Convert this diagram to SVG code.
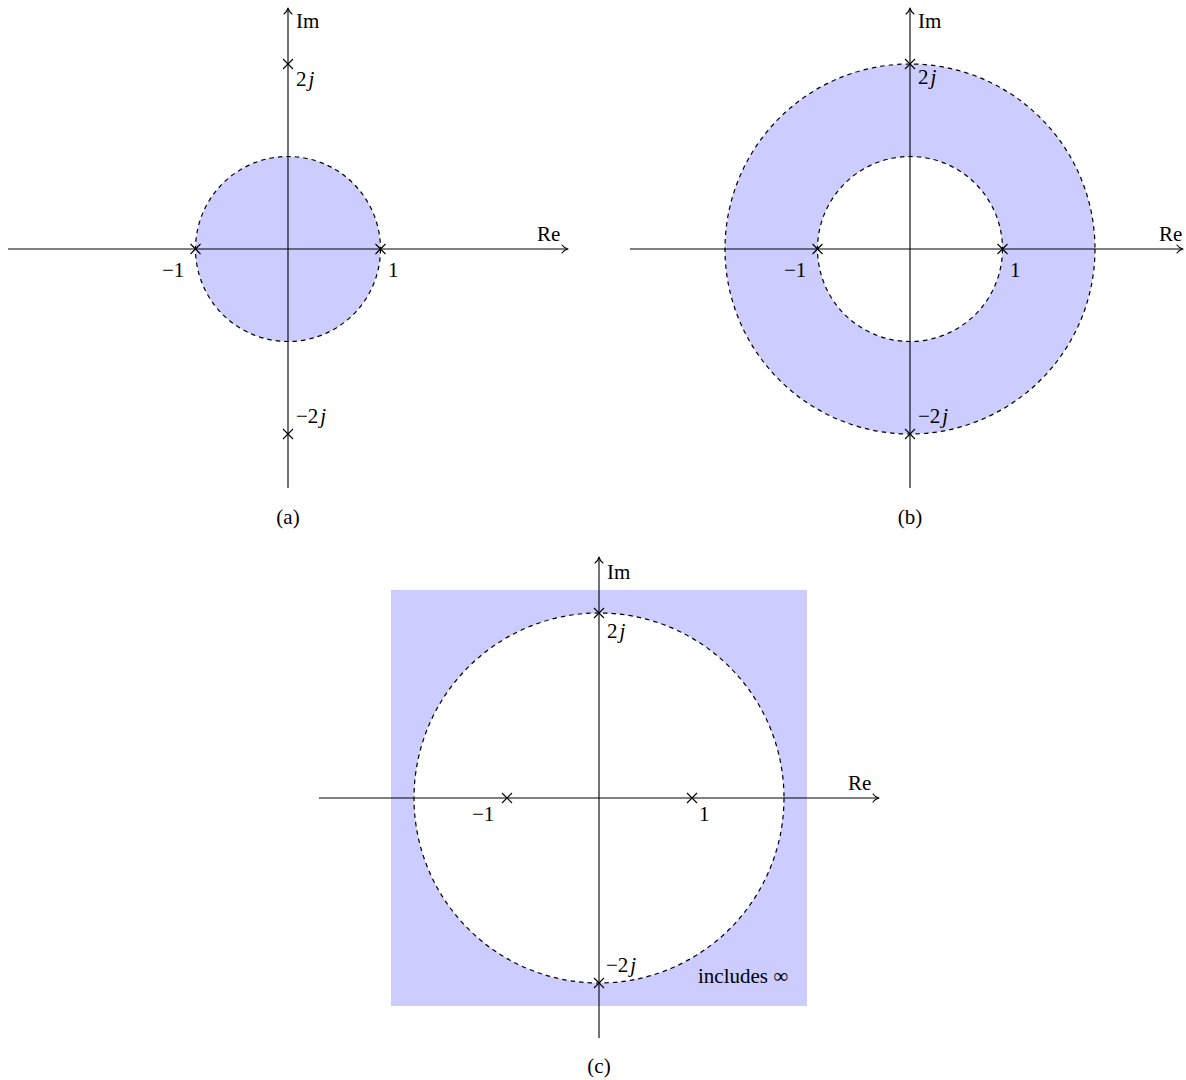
<svg xmlns="http://www.w3.org/2000/svg" width="1186" height="1080" viewBox="0 0 1186 1080">
<style>
.fill{fill:#ccccff;stroke:none}
.dash{fill:none;stroke:#000;stroke-width:1.2;stroke-dasharray:4.5 4}
.axis{fill:none;stroke:#000;stroke-width:1.1}
.tip{fill:none;stroke:#000;stroke-width:1.1;stroke-linecap:round;stroke-linejoin:round}
.x{stroke:#000;stroke-width:1.1}
.lbl{font-family:'Liberation Serif','DejaVu Serif',serif;font-size:21px;fill:#000}
.it{font-style:italic}
</style>
<defs>
<path id="cross" class="x" d="M-5,-5L5,5M-5,5L5,-5"/>
</defs>
<rect width="1186" height="1080" fill="#fff"/>

<g id="panel-a">
<circle class="fill" cx="288" cy="249" r="92.5"/>
<circle class="dash" cx="288" cy="249" r="92.5"/>
<g id="a-axes">
<path class="axis" d="M8,249H567M288,488V9"/>
<path class="tip" d="M562,245Q564,248 568,249Q564,250 562,253"/>
<path class="tip" d="M284,14Q287,12 288,8Q289,12 292,14"/>
</g>
<use href="#cross" x="195.5" y="249"/>
<use href="#cross" x="380.5" y="249"/>
<use href="#cross" x="288" y="64"/>
<use href="#cross" x="288" y="434"/>
<g class="lbl" font-family="Liberation Serif, DejaVu Serif, serif">
<text x="296" y="28">Im</text>
<text x="537" y="241">Re</text>
<text x="296" y="86">2<tspan class="it" dx="2">j</tspan></text>
<text x="296" y="423">−2<tspan class="it" dx="2">j</tspan></text>
<text x="162" y="277">−1</text>
<text x="388" y="277">1</text>
<text x="288" y="524" text-anchor="middle">(a)</text>
</g>
</g>

<g id="panel-b">
<path class="fill" fill-rule="evenodd" d="M725,249a185,185 0 1,0 370,0a185,185 0 1,0 -370,0ZM817.5,249a92.5,92.5 0 1,0 185,0a92.5,92.5 0 1,0 -185,0Z"/>
<circle class="dash" cx="910" cy="249" r="185"/>
<circle class="dash" cx="910" cy="249" r="92.5"/>
<g id="b-axes">
<path class="axis" d="M630,249H1182M910,488V9"/>
<path class="tip" d="M1177,245Q1179,248 1183,249Q1179,250 1177,253"/>
<path class="tip" d="M906,14Q909,12 910,8Q911,12 914,14"/>
</g>
<use href="#cross" x="817.5" y="249"/>
<use href="#cross" x="1002.5" y="249"/>
<use href="#cross" x="910" y="64"/>
<use href="#cross" x="910" y="434"/>
<g class="lbl" font-family="Liberation Serif, DejaVu Serif, serif">
<text x="918" y="28">Im</text>
<text x="1159" y="241">Re</text>
<text x="918" y="84">2<tspan class="it" dx="2">j</tspan></text>
<text x="918" y="423">−2<tspan class="it" dx="2">j</tspan></text>
<text x="784" y="277">−1</text>
<text x="1010" y="277">1</text>
<text x="910" y="524" text-anchor="middle">(b)</text>
</g>
</g>

<g id="panel-c">
<path class="fill" fill-rule="evenodd" d="M391,590H807V1006H391ZM414,798a185,185 0 1,0 370,0a185,185 0 1,0 -370,0Z"/>
<circle class="dash" cx="599" cy="798" r="185"/>
<g id="c-axes">
<path class="axis" d="M319,798H878M599,1038V559"/>
<path class="tip" d="M873,794Q875,797 879,798Q875,799 873,802"/>
<path class="tip" d="M595,563Q598,561 599,557Q600,561 603,563"/>
</g>
<use href="#cross" x="507" y="798"/>
<use href="#cross" x="692" y="798"/>
<use href="#cross" x="599" y="613"/>
<use href="#cross" x="599" y="983"/>
<g class="lbl" font-family="Liberation Serif, DejaVu Serif, serif">
<text x="607" y="579">Im</text>
<text x="848" y="790">Re</text>
<text x="607" y="638">2<tspan class="it" dx="2">j</tspan></text>
<text x="606" y="972">−2<tspan class="it" dx="2">j</tspan></text>
<text x="472" y="821">−1</text>
<text x="699" y="821">1</text>
<text x="698" y="983">includes ∞</text>
<text x="599" y="1073" text-anchor="middle">(c)</text>
</g>
</g>
</svg>
